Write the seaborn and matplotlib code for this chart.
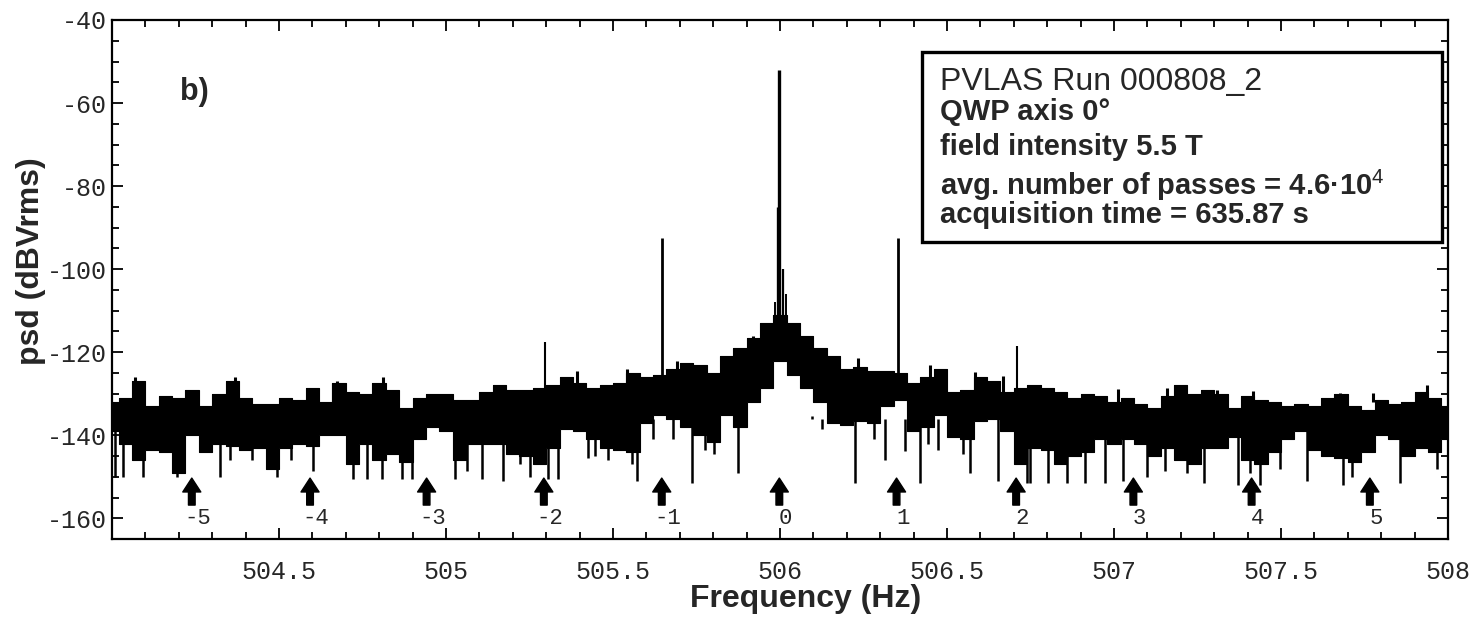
import numpy as np
import matplotlib
matplotlib.use("Agg")
import matplotlib.pyplot as plt
from matplotlib.ticker import MultipleLocator
from matplotlib.patches import Rectangle
import seaborn as sns

# frequency grid of the read-off envelope (Hz)
freq = [504.00, 504.04, 504.08, 504.12, 504.16, 504.20, 504.24, 504.28, 504.32, 504.36,
        504.40, 504.44, 504.48, 504.52, 504.56, 504.60, 504.64, 504.68, 504.72, 504.76,
        504.80, 504.84, 504.88, 504.92, 504.96, 505.00, 505.04, 505.08, 505.12, 505.16,
        505.20, 505.24, 505.28, 505.32, 505.36, 505.40, 505.44, 505.48, 505.52, 505.56,
        505.60, 505.64, 505.68, 505.72, 505.76, 505.80, 505.84, 505.88, 505.92, 505.96,
        506.00, 506.04, 506.08, 506.12, 506.16, 506.20, 506.24, 506.28, 506.32, 506.36,
        506.40, 506.44, 506.48, 506.52, 506.56, 506.60, 506.64, 506.68, 506.72, 506.76,
        506.80, 506.84, 506.88, 506.92, 506.96, 507.00, 507.04, 507.08, 507.12, 507.16,
        507.20, 507.24, 507.28, 507.32, 507.36, 507.40, 507.44, 507.48, 507.52, 507.56,
        507.60, 507.64, 507.68, 507.72, 507.76, 507.80, 507.84, 507.88, 507.92, 507.96,
        508.00]

# upper edge of the noise band (dBVrms)
upper = [-132, -131, -127, -133, -130.5, -131, -129, -133, -130, -127,
         -131, -132.5, -132.5, -131, -131.5, -128.5, -132, -127.5, -129.5, -130,
         -127.5, -129, -133.5, -131, -130, -130, -131.5, -131.5, -129.5, -128,
         -129, -129, -128.5, -128, -126, -127.5, -128.5, -128, -127.5, -125,
         -126, -125.5, -124, -122.5, -123, -125, -121, -119, -116.5, -113,
         -111, -113, -116, -119, -121, -124, -123.5, -124.5, -124.5, -125,
         -127.5, -126, -124, -129.5, -129, -126, -127, -129.5, -128.5, -128,
         -128.5, -129.5, -131, -130, -130.5, -132, -131, -132.5, -133.5, -130.5,
         -128, -130, -129, -130, -133.5, -130.5, -131.5, -132, -133, -132.5,
         -133, -131, -130, -133, -134, -131.5, -132.5, -132, -129.5, -131,
         -133]

# lower edge of the dense noise band (dBVrms)
lower = [-139, -142, -146, -143.5, -144, -149, -140, -144, -142, -142.5,
         -143.5, -143, -148, -143, -142, -142.5, -140, -140, -147, -142,
         -146, -144.5, -146.5, -141, -138, -139, -146, -142, -142, -142,
         -144.5, -145, -147, -143, -138.5, -139, -141, -143, -143.5, -144,
         -137, -135, -136, -138, -140, -141.5, -135, -138, -132, -128.5,
         -122, -125.5, -128.5, -132, -137, -137.5, -136.5, -137, -133, -131.5,
         -139, -138, -135, -140.5, -141, -136.5, -136, -139, -147, -143,
         -143.5, -147, -145, -144, -141, -142, -141, -142, -145, -143,
         -146, -147, -143, -143, -140.5, -146, -147, -144, -141, -139,
         -143.5, -145, -145.5, -146.5, -144, -140, -141, -145, -143, -144,
         -141]

# narrow upward noise spikes: frequency, top value
bump_freq = [504.069, 504.368, 504.602, 504.662, 504.673, 504.812, 505.391, 505.541,
             505.691, 505.920, 506.234, 506.449, 506.584, 506.668, 507.012, 507.158,
             507.207, 507.307, 507.417, 507.677, 507.776, 507.936]
bump_top = [-126, -126, -128.5, -127.5, -127, -126, -124.5, -124,
            -122, -116, -121.3, -123, -124.7, -125.7, -128.9, -128.5,
            -128.3, -129, -129.3, -129.7, -129.7, -128]

# narrow downward spikes: frequency, bottom value
dip_freq = [504.009, 504.034, 504.094, 504.194, 504.323, 504.353, 504.418, 504.493, 504.535, 504.603,
            504.722, 504.763, 504.807, 504.867, 504.897, 505.027, 505.062, 505.107, 505.172, 505.222,
            505.251, 505.306, 505.336, 505.426, 505.446, 505.486, 505.556, 505.571, 505.621, 505.681,
            505.736, 505.776, 505.801, 505.875, 505.930, 506.095, 506.125, 506.225, 506.280,
            506.314, 506.374, 506.419, 506.444, 506.474, 506.549, 506.569, 506.654, 506.739, 506.749,
            506.803, 506.858, 506.913, 506.973, 507.028, 507.098, 507.153, 507.218, 507.268, 507.372,
            507.407, 507.437, 507.497, 507.577, 507.687, 507.712, 507.856, 507.966]
dip_val = [-150, -150, -150, -150, -150, -146, -146, -150, -146, -148.5,
           -150.5, -150.5, -150.5, -150.5, -150.5, -150.5, -148.5, -150.5, -151, -147,
           -150, -150.5, -150.5, -145.5, -145, -146, -147, -151, -141, -141,
           -151.5, -143.5, -144.5, -149, -136, -135.3, -138.5, -151.5, -141,
           -146, -143.7, -151.5, -142, -143.5, -144.5, -149, -151, -151.5, -151.5,
           -151.5, -151.5, -151.5, -151.5, -151, -150, -148.5, -149, -151.5, -152,
           -149, -152, -148, -151, -152, -150, -151.5, -148]

# spectral lines: frequency, base, top value, drawn width
line_freq = [505.998, 505.993, 506.008, 505.985, 506.018, 505.647, 506.353, 505.296, 506.709]
line_base = [-121, -121, -121, -121, -121, -130, -130, -132, -132]
line_top = [-52, -85, -100, -108, -106, -92.5, -92.5, -117.5, -118.5]
line_width = [2.4, 2.4, 1.6, 1.4, 1.4, 2.0, 2.0, 1.5, 1.5]

# sideband arrows
arrow_freq = [504.239, 504.593, 504.942, 505.293, 505.646, 505.998,
              506.349, 506.707, 507.058, 507.412, 507.766]
arrow_order = ['-5', '-4', '-3', '-2', '-1', '0', '1', '2', '3', '4', '5']

xtick_vals = [504.5, 505, 505.5, 506, 506.5, 507, 507.5, 508]
xtick_text = ['504.5', '505', '505.5', '506', '506.5', '507', '507.5', '508']
ytick_vals = [-160, -140, -120, -100, -80, -60, -40]
ytick_text = ['-160', '-140', '-120', '-100', '-80', '-60', '-40']

info_lines = ['PVLAS Run 000808_2',
              'QWP axis 0°',
              'field intensity 5.5 T',
              'avg. number of passes = 4.6·10$^{4}$',
              'acquisition time = 635.87 s']

sns.set_style("ticks")
plt.rcParams['font.family'] = ['Liberation Sans', 'DejaVu Sans']
plt.rcParams['mathtext.fontset'] = 'custom'
plt.rcParams['mathtext.rm'] = 'Liberation Sans'
plt.rcParams['mathtext.bf'] = 'Liberation Sans:bold'
plt.rcParams['axes.unicode_minus'] = False

fig = plt.figure(figsize=(14.83, 6.24), dpi=100)
ax = fig.add_axes([0.0755, 0.136, 0.9009, 0.832])

# noise band
ax.fill_between(freq, lower, upper, step='mid', color='black', lw=0)
sns.lineplot(x=freq, y=upper, drawstyle='steps-mid', color='black', lw=0.8,
             estimator=None, ax=ax)
sns.lineplot(x=freq, y=lower, drawstyle='steps-mid', color='black', lw=0.8,
             estimator=None, ax=ax)
ax.vlines(bump_freq, -132, bump_top, color='black', lw=2.2)
ax.vlines(dip_freq, dip_val, -136, color='black', lw=1.8)
ax.vlines(line_freq, line_base, line_top, color='black', linewidths=line_width)

# sideband arrows with order numbers
for f, lab in zip(arrow_freq, arrow_order):
    ax.annotate('', xy=(f, -150.3), xytext=(f, -156.8),
                arrowprops=dict(arrowstyle='simple,head_width=0.65,head_length=0.5,tail_width=0.24',
                                color='black', shrinkA=0, shrinkB=0, mutation_scale=20))
    ax.text(f + 0.018, -160, lab, ha='center', va='center', fontsize=16,
            family='Liberation Mono')

ax.set_xlim(504, 508)
ax.set_ylim(-165, -40)
ax.set_xticks(xtick_vals)
ax.set_xticklabels(xtick_text, family='Liberation Mono', fontsize=18)
ax.set_yticks(ytick_vals)
ax.set_yticklabels(ytick_text, family='Liberation Mono', fontsize=18)
ax.xaxis.set_minor_locator(MultipleLocator(0.1))
ax.yaxis.set_minor_locator(MultipleLocator(5))
ax.tick_params(which='both', direction='in', top=True, right=True, width=1.3, color='black')
ax.tick_params(which='major', length=8)
ax.tick_params(which='minor', length=5)
ax.tick_params(axis='x', which='major', pad=15)
ax.tick_params(axis='y', which='major', pad=4)
for sp in ax.spines.values():
    sp.set_linewidth(1.6)
    sp.set_color('black')

ax.text(0.062, 0.861, 'b)', transform=ax.transAxes, fontsize=22, fontweight='bold',
        ha='center', va='center')

# info box
ax.add_patch(Rectangle((0.606, 0.572), 0.3895, 0.366, transform=ax.transAxes,
                       fill=True, facecolor='white', edgecolor='black', lw=2.4, zorder=5))
info_y = [0.8805, 0.8227, 0.7553, 0.6821, 0.6243]
for i, (txt, yy) in enumerate(zip(info_lines, info_y)):
    ax.text(0.6198, yy, txt, transform=ax.transAxes, fontsize=23 if i == 0 else 21,
            fontweight='normal' if i == 0 else 'bold', ha='left', va='center', zorder=6)

fig.text(806 / 1483, 1 - 599 / 624, 'Frequency (Hz)', fontsize=23, fontweight='bold',
         ha='center', va='center')
fig.text(31 / 1483, 1 - 261 / 624, 'psd (dBVrms)', fontsize=23, fontweight='bold',
         ha='center', va='center', rotation=90)

fig.savefig('out.png', dpi=100)
